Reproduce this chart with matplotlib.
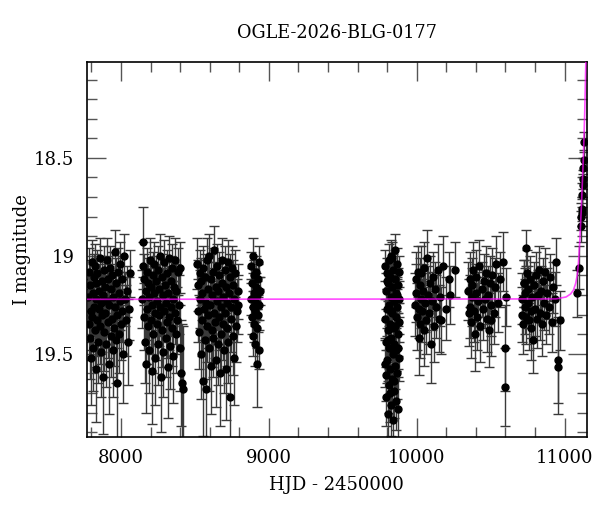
import numpy as np
import matplotlib.pyplot as plt
from matplotlib.ticker import MultipleLocator, FuncFormatter

# observing seasons (HJD - 2450000, I mag, error)
t_s1 = [7779, 7783, 7786, 7790, 7793, 7796, 7799, 7802, 7805, 7808,
        7811, 7815, 7818, 7821, 7824, 7828, 7831, 7834, 7838, 7841,
        7845, 7848, 7851, 7855, 7858, 7862, 7866, 7869, 7873, 7876,
        7880, 7884, 7887, 7891, 7895, 7898, 7902, 7906, 7910, 7913,
        7917, 7921, 7925, 7929, 7932, 7936, 7940, 7944, 7948, 7952,
        7956, 7960, 7964, 7968, 7972, 7976, 7980, 7984, 7988, 7992,
        7996, 8000, 8005, 8010, 8015, 8020, 8026, 8032, 8040, 8048,
        8055, 8060]
m_s1 = [19.21, 19.35, 19.08, 19.42, 19.15, 19.28, 19.52, 19.03, 19.31, 19.19,
        19.47, 19.11, 19.26, 19.38, 19.05, 19.22, 19.58, 19.14, 19.33, 19.09,
        19.44, 19.27, 19.18, 19.36, 19.01, 19.24, 19.49, 19.13, 19.30, 19.20,
        19.62, 19.07, 19.39, 19.16, 19.29, 19.45, 19.02, 19.23, 19.34, 19.12,
        19.55, 19.25, 19.06, 19.41, 19.17, 19.32, 19.10, 19.48, 19.21, 19.37,
        18.98, 19.26, 19.43, 19.14, 19.30, 19.65, 19.08, 19.19, 19.40, 19.23,
        19.04, 19.35, 19.28, 19.12, 19.50, 19.00, 19.22, 19.33, 19.18, 19.44,
        19.27, 19.09]
e_s1 = [0.14, 0.18, 0.12, 0.21, 0.13, 0.16, 0.24, 0.11, 0.17, 0.15,
        0.22, 0.12, 0.15, 0.19, 0.11, 0.14, 0.27, 0.13, 0.18, 0.12,
        0.21, 0.16, 0.14, 0.19, 0.10, 0.15, 0.23, 0.12, 0.17, 0.14,
        0.29, 0.12, 0.20, 0.13, 0.16, 0.22, 0.11, 0.15, 0.18, 0.12,
        0.26, 0.15, 0.11, 0.21, 0.13, 0.17, 0.12, 0.24, 0.14, 0.19,
        0.11, 0.16, 0.22, 0.13, 0.17, 0.30, 0.12, 0.14, 0.20, 0.15,
        0.11, 0.18, 0.16, 0.12, 0.25, 0.11, 0.14, 0.18, 0.13, 0.22,
        0.16, 0.12]

t_s2 = [8143, 8147, 8151, 8155, 8158, 8162, 8166, 8170, 8173, 8177,
        8181, 8185, 8188, 8192, 8196, 8200, 8203, 8207, 8211, 8215,
        8218, 8222, 8226, 8230, 8233, 8237, 8241, 8245, 8248, 8252,
        8256, 8260, 8263, 8267, 8271, 8275, 8278, 8282, 8286, 8290,
        8293, 8297, 8301, 8305, 8308, 8312, 8316, 8320, 8323, 8327,
        8331, 8335, 8338, 8342, 8346, 8350, 8354, 8358, 8362, 8366,
        8370, 8375, 8380, 8385, 8390, 8396, 8402, 8408, 8413, 8418]
m_s2 = [19.22, 19.05, 18.93, 19.31, 19.12, 19.44, 19.18, 19.55, 19.27, 19.08,
        19.36, 19.14, 19.48, 19.21, 19.02, 19.33, 19.16, 19.59, 19.25, 19.10,
        19.40, 19.19, 19.04, 19.29, 19.52, 19.13, 19.35, 19.23, 19.07, 19.45,
        19.17, 19.30, 19.00, 19.26, 19.62, 19.11, 19.38, 19.20, 19.49, 19.03,
        19.28, 19.15, 19.42, 19.24, 19.09, 19.34, 19.57, 19.19, 19.01, 19.31,
        19.46, 19.13, 19.26, 19.37, 19.06, 19.22, 19.51, 19.16, 19.29, 19.02,
        19.40, 19.18, 19.33, 19.08, 19.25, 19.06, 19.47, 19.60, 19.65, 19.68]
e_s2 = [0.15, 0.12, 0.18, 0.17, 0.13, 0.21, 0.14, 0.25, 0.16, 0.12,
        0.19, 0.13, 0.22, 0.15, 0.11, 0.17, 0.13, 0.27, 0.15, 0.12,
        0.20, 0.14, 0.11, 0.16, 0.24, 0.13, 0.18, 0.15, 0.12, 0.21,
        0.13, 0.16, 0.11, 0.15, 0.28, 0.12, 0.19, 0.14, 0.23, 0.11,
        0.16, 0.13, 0.20, 0.15, 0.12, 0.18, 0.26, 0.14, 0.11, 0.17,
        0.22, 0.13, 0.15, 0.19, 0.12, 0.14, 0.24, 0.13, 0.16, 0.11,
        0.20, 0.14, 0.17, 0.12, 0.15, 0.13, 0.22, 0.27, 0.30, 0.32]

t_s3 = [8515, 8519, 8523, 8527, 8531, 8534, 8538, 8542, 8546, 8550,
        8553, 8557, 8561, 8565, 8568, 8572, 8576, 8580, 8583, 8587,
        8591, 8595, 8598, 8602, 8606, 8610, 8613, 8617, 8621, 8625,
        8628, 8632, 8636, 8640, 8643, 8647, 8651, 8655, 8658, 8662,
        8666, 8670, 8673, 8677, 8681, 8685, 8688, 8692, 8696, 8700,
        8703, 8707, 8711, 8715, 8718, 8722, 8726, 8730, 8734, 8738,
        8742, 8746, 8750, 8754, 8758, 8762, 8767, 8772, 8778, 8784,
        8788, 8791]
m_s3 = [19.04, 19.28, 19.15, 19.39, 19.09, 19.22, 19.50, 19.13, 19.33, 19.19,
        19.64, 19.06, 19.27, 19.43, 19.11, 19.68, 19.24, 19.36, 19.02, 19.30,
        19.17, 19.47, 19.00, 19.25, 19.56, 19.12, 19.38, 19.20, 19.08, 19.42,
        19.29, 18.97, 19.34, 19.16, 19.53, 19.23, 19.05, 19.45, 19.18, 19.31,
        19.10, 19.60, 19.26, 19.40, 19.14, 19.02, 19.35, 19.21, 19.48, 19.07,
        19.29, 19.16, 19.58, 19.24, 19.37, 19.03, 19.44, 19.19, 19.72, 19.11,
        19.32, 19.26, 19.06, 19.41, 19.15, 19.52, 19.22, 19.09, 19.36, 19.28,
        19.18, 19.25]
e_s3 = [0.13, 0.16, 0.13, 0.19, 0.12, 0.15, 0.23, 0.12, 0.18, 0.14,
        0.28, 0.11, 0.16, 0.20, 0.12, 0.30, 0.15, 0.18, 0.11, 0.17,
        0.14, 0.22, 0.11, 0.15, 0.25, 0.13, 0.19, 0.14, 0.12, 0.20,
        0.16, 0.12, 0.18, 0.13, 0.24, 0.15, 0.11, 0.21, 0.14, 0.17,
        0.12, 0.27, 0.16, 0.19, 0.13, 0.11, 0.18, 0.14, 0.22, 0.12,
        0.16, 0.13, 0.26, 0.15, 0.19, 0.11, 0.21, 0.14, 0.31, 0.12,
        0.17, 0.15, 0.11, 0.20, 0.13, 0.24, 0.14, 0.12, 0.18, 0.16,
        0.14, 0.15]

t_s4 = [8880, 8882, 8885, 8887, 8890, 8892, 8895, 8897, 8900, 8902, 8905, 8907,
        8910, 8912, 8915, 8917, 8920, 8922, 8925, 8927, 8930, 8932, 8935, 8938]
m_s4 = [19.22, 19.05, 19.31, 19.14, 19.41, 19.00, 19.26, 19.19, 19.35, 19.10, 19.28, 19.45,
        19.16, 19.24, 19.08, 19.37, 19.20, 19.55, 19.12, 19.30, 19.03, 19.25, 19.48, 19.18]
e_s4 = [0.08, 0.07, 0.09, 0.08, 0.10, 0.09, 0.08, 0.07, 0.09, 0.08, 0.08, 0.11,
        0.07, 0.08, 0.08, 0.10, 0.07, 0.22, 0.08, 0.09, 0.08, 0.08, 0.10, 0.07]

t_s5 = [9785, 9787, 9789, 9791, 9793, 9795, 9797, 9799, 9801, 9803,
        9805, 9807, 9809, 9811, 9813, 9815, 9817, 9819, 9821, 9823,
        9825, 9827, 9829, 9831, 9833, 9835, 9837, 9839, 9841, 9843,
        9845, 9847, 9849, 9851, 9853, 9855, 9857, 9859, 9861, 9863,
        9865, 9867, 9869, 9871, 9873, 9875, 9877, 9879, 9881, 9883,
        9786, 9796, 9806, 9816, 9826, 9836, 9846, 9856, 9866, 9876]
m_s5 = [19.32, 19.05, 19.61, 19.18, 19.44, 19.72, 19.09, 19.27, 19.53, 19.14,
        19.81, 19.38, 19.02, 19.25, 19.66, 19.47, 19.11, 19.35, 19.58, 19.21,
        19.76, 19.00, 19.42, 19.29, 19.63, 19.16, 19.50, 19.84, 19.07, 19.37,
        19.23, 19.69, 19.45, 19.12, 19.56, 18.97, 19.31, 19.74, 19.19, 19.48,
        19.04, 19.60, 19.26, 19.40, 19.78, 19.15, 19.52, 19.34, 19.08, 19.22,
        19.55, 19.13, 19.43, 19.70, 19.28, 19.01, 19.64, 19.36, 19.20, 19.47]
e_s5 = [0.10, 0.08, 0.13, 0.09, 0.11, 0.15, 0.08, 0.10, 0.12, 0.09,
        0.17, 0.10, 0.08, 0.09, 0.14, 0.11, 0.08, 0.10, 0.12, 0.09,
        0.16, 0.08, 0.11, 0.10, 0.13, 0.09, 0.12, 0.10, 0.08, 0.10,
        0.09, 0.14, 0.11, 0.08, 0.12, 0.08, 0.10, 0.15, 0.09, 0.11,
        0.08, 0.13, 0.09, 0.11, 0.16, 0.09, 0.12, 0.10, 0.08, 0.09,
        0.12, 0.09, 0.11, 0.15, 0.10, 0.08, 0.13, 0.10, 0.09, 0.11]

t_s6 = [9990, 9995, 9998, 10003, 10008, 10012, 10014, 10019, 10024, 10028,
        10032, 10037, 10042, 10047, 10052, 10058, 10063, 10070, 10076, 10082,
        10088, 10093, 10100, 10107, 10115, 10124, 10133, 10142, 10152, 10160,
        10166, 10178, 10195, 10216, 10223, 10257]
m_s6 = [19.25, 19.12, 19.19, 19.31, 19.08, 19.27, 19.42, 19.15, 19.35, 19.22,
        19.09, 19.28, 19.18, 19.38, 19.06, 19.24, 19.33, 19.01, 19.20, 19.29,
        19.14, 19.45, 19.23, 19.11, 19.36, 19.17, 19.26, 19.07, 19.32, 19.21,
        19.33, 19.05, 19.27, 19.12, 19.20, 19.07]
e_s6 = [0.16, 0.14, 0.15, 0.17, 0.13, 0.15, 0.19, 0.14, 0.17, 0.15,
        0.14, 0.16, 0.14, 0.18, 0.13, 0.15, 0.17, 0.14, 0.15, 0.16,
        0.14, 0.20, 0.15, 0.13, 0.18, 0.14, 0.16, 0.13, 0.17, 0.15,
        0.17, 0.15, 0.16, 0.14, 0.15, 0.14]

t_s7 = [10348, 10354, 10358, 10363, 10368, 10373, 10377, 10381, 10386, 10392,
        10398, 10404, 10410, 10417, 10424, 10431, 10438, 10445, 10452, 10459,
        10466, 10473, 10480, 10487, 10494, 10500, 10505, 10512, 10520, 10528,
        10539, 10552, 10565, 10583, 10595, 10599, 10606]
m_s7 = [19.18, 19.29, 19.26, 19.12, 19.34, 19.21, 19.15, 19.07, 19.28, 19.40,
        19.19, 19.11, 19.31, 19.23, 19.05, 19.36, 19.17, 19.27, 19.13, 19.22,
        19.09, 19.32, 19.20, 19.38, 19.14, 19.25, 19.33, 19.10, 19.29, 19.16,
        19.04, 19.24, 19.12, 19.03, 19.47, 19.67, 19.21]
e_s7 = [0.15, 0.17, 0.16, 0.14, 0.18, 0.15, 0.14, 0.14, 0.16, 0.19,
        0.15, 0.14, 0.17, 0.15, 0.13, 0.18, 0.14, 0.16, 0.14, 0.15,
        0.14, 0.17, 0.15, 0.19, 0.14, 0.16, 0.18, 0.14, 0.16, 0.15,
        0.14, 0.15, 0.14, 0.15, 0.22, 0.20, 0.15]

t_s8 = [10710, 10715, 10718, 10722, 10725, 10729, 10733, 10736, 10740, 10745,
        10750, 10755, 10760, 10766, 10771, 10774, 10780, 10786, 10792, 10798,
        10804, 10810, 10817, 10824, 10831, 10838, 10845, 10852, 10860, 10868,
        10876, 10884, 10893, 10902, 10912, 10922, 10933, 10944, 10955, 10957,
        10971]
m_s8 = [19.22, 19.30, 19.35, 19.14, 19.14, 19.26, 19.19, 18.96, 19.31, 19.09,
        19.24, 19.17, 19.33, 19.12, 19.28, 19.37, 19.21, 19.43, 19.15, 19.27,
        19.10, 19.32, 19.20, 19.07, 19.29, 19.18, 19.35, 19.13, 19.24, 19.08,
        19.30, 19.19, 19.26, 19.11, 19.34, 19.16, 19.22, 19.03, 19.57, 19.53,
        19.33]
e_s8 = [0.13, 0.14, 0.15, 0.12, 0.12, 0.14, 0.13, 0.09, 0.14, 0.12,
        0.13, 0.12, 0.15, 0.12, 0.14, 0.16, 0.13, 0.17, 0.12, 0.14,
        0.12, 0.15, 0.13, 0.12, 0.14, 0.13, 0.16, 0.12, 0.14, 0.12,
        0.15, 0.13, 0.14, 0.12, 0.15, 0.13, 0.14, 0.12, 0.24, 0.22,
        0.15]

# rising part of the event
t_s9 = [11081, 11094, 11110, 11112, 11115, 11117, 11119, 11121, 11123, 11125, 11128, 11130]
m_s9 = [19.19, 19.06, 18.85, 18.80, 18.78, 18.76, 18.69, 18.64, 18.61, 18.55, 18.51, 18.42]
e_s9 = [0.12, 0.11, 0.08, 0.07, 0.07, 0.06, 0.06, 0.06, 0.05, 0.05, 0.05, 0.05]

# model curve
model_t = [7770, 10940, 11010, 11040, 11060, 11075, 11085, 11093, 11100, 11106,
           11112, 11118, 11124, 11130, 11136, 11142, 11150]
model_m = [19.222, 19.22, 19.21, 19.195, 19.175, 19.14, 19.10, 19.04, 18.96, 18.87,
           18.77, 18.66, 18.55, 18.42, 18.27, 18.06, 17.80]

hjd = np.concatenate([t_s1, t_s2, t_s3, t_s4, t_s5, t_s6, t_s7, t_s8, t_s9])
mag = np.concatenate([m_s1, m_s2, m_s3, m_s4, m_s5, m_s6, m_s7, m_s8, m_s9])
err = np.concatenate([e_s1, e_s2, e_s3, e_s4, e_s5, e_s6, e_s7, e_s8, e_s9])

plt.rcParams['font.family'] = 'DejaVu Serif'
plt.rcParams['font.size'] = 13

fig = plt.figure(figsize=(6, 5.12), dpi=100)
ax = fig.add_axes([0.145, 0.1465, 0.833, 0.7325])

ax.errorbar(hjd, mag, yerr=err, fmt='o', color='black', ms=5, ecolor='#3a3a3a',
            elinewidth=1.0, capsize=3.5, capthick=1.0, zorder=2)
ax.plot(model_t, model_m, color='magenta', lw=1.2, alpha=0.7, zorder=3)

ax.set_xlim(7770, 11150)
ax.set_ylim(19.925, 18.01)

ax.xaxis.set_major_locator(MultipleLocator(1000))
ax.xaxis.set_minor_locator(MultipleLocator(200))
ax.yaxis.set_major_locator(MultipleLocator(0.5))
ax.yaxis.set_minor_locator(MultipleLocator(0.1))
ax.yaxis.set_major_formatter(FuncFormatter(lambda v, p: '%g' % v))
ax.tick_params(which='both', direction='in', top=True, right=True, color='#555555')
ax.tick_params(which='major', length=14, width=1, pad=9)
ax.tick_params(which='minor', length=7, width=1)
for s in ax.spines.values():
    s.set_linewidth(1.2)

ax.set_title('OGLE-2026-BLG-0177', fontsize=12.7, pad=17)
ax.set_xlabel('HJD - 2450000', labelpad=6)
ax.set_ylabel('I magnitude')
ax.yaxis.set_label_coords(-0.113, 0.5)

plt.savefig('out.png', dpi=100)
plt.close(fig)
